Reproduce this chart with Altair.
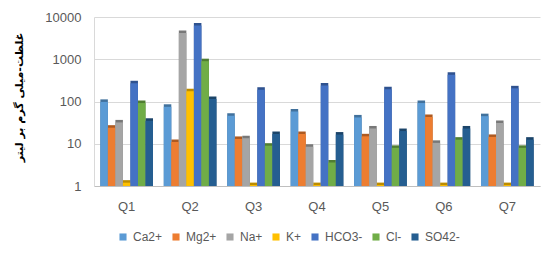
import altair as alt
import pandas as pd

groups = ["Q1", "Q2", "Q3", "Q4", "Q5", "Q6", "Q7"]
series = ["Ca2+", "Mg2+", "Na+", "K+", "HCO3-", "Cl-", "SO42-"]
ca = [98, 75, 46, 58, 42, 92, 45]
mg = [24, 11, 13, 17, 15, 43, 14.5]
na = [32, 4200, 13.5, 8.5, 23, 10.5, 31]
k = [1.2, 175, 1.05, 1.05, 1.05, 1.05, 1.05]
hco3 = [270, 6300, 190, 240, 195, 430, 205]
cl = [92, 900, 9, 3.6, 8, 12.5, 8]
so4 = [35, 115, 17, 16.5, 20, 23, 12.5]
colors = ["#5B9BD5", "#ED7D31", "#A5A5A5", "#FFC000", "#4472C4", "#70AD47", "#255E91"]
shades = ["#41719C", "#AE5A21", "#787878", "#BC8C00", "#2F528F", "#507E32", "#1B4469"]
ytitle = "غلظت-میلی گرم بر لیتر"

vals = [ca, mg, na, k, hco3, cl, so4]
rows = []
for si, s in enumerate(series):
    for gi, g in enumerate(groups):
        rows.append({"group": g, "ion": s, "value": vals[si][gi], "order": si,
                     "shade": shades[si]})
df = pd.DataFrame(rows)

W, H = 446, 169
font = "Liberation Sans"

x_enc = alt.X("group:N", sort=groups,
              scale=alt.Scale(paddingInner=0.17, paddingOuter=0.1),
              axis=alt.Axis(title=None, labelAngle=0, labelFontSize=13, labelColor="#595959",
                            labelFont=font, ticks=False, labelPadding=14,
                            domainColor="#BFBFBF", grid=False))
xo_enc = alt.XOffset("ion:N", sort=series, scale=alt.Scale(paddingInner=0.0))
y_enc = alt.Y("value:Q",
              scale=alt.Scale(type="log", domain=[1, 10000]),
              axis=alt.Axis(values=[1, 10, 100, 1000, 10000], format="d",
                            title=ytitle, titleFont="DejaVu Sans", titleFontSize=11,
                            titleFontWeight="bold", titleColor="#000000",
                            titleX=-75, titleY=80, titleAngle=-90,
                            titleAlign="center", titleBaseline="middle",
                            labelFontSize=13, labelColor="#595959", labelFont=font,
                            labelPadding=13, ticks=False, domainColor="#D9D9D9",
                            gridColor="#D9D9D9", gridWidth=1))

base = alt.Chart(df)

shadow = base.mark_bar(xOffset=2.5, yOffset=-2.5).encode(
    x=x_enc, xOffset=xo_enc, y=y_enc, y2=alt.datum(1),
    color=alt.Color("shade:N", scale=None),
)

front = base.mark_bar().encode(
    x=x_enc, xOffset=xo_enc, y=y_enc, y2=alt.datum(1),
    color=alt.Color("ion:N", sort=series,
                    scale=alt.Scale(domain=series, range=colors),
                    legend=alt.Legend(title=None, orient="none", direction="horizontal",
                                      legendX=23, legendY=214, symbolType="square",
                                      symbolSize=50, symbolStrokeWidth=0,
                                      labelFontSize=12, labelFont=font,
                                      labelColor="#595959", columnPadding=7,
                                      labelOffset=4)),
)

chart = alt.layer(shadow, front).resolve_scale(color="independent").properties(
    width=W, height=H,
    autosize=alt.AutoSizeParams(type="none"),
    padding={"left": 86, "top": 9, "right": 2, "bottom": 59},
).configure_view(stroke=None)

chart.save("out.html", embed_options={"renderer": "svg", "actions": False})
